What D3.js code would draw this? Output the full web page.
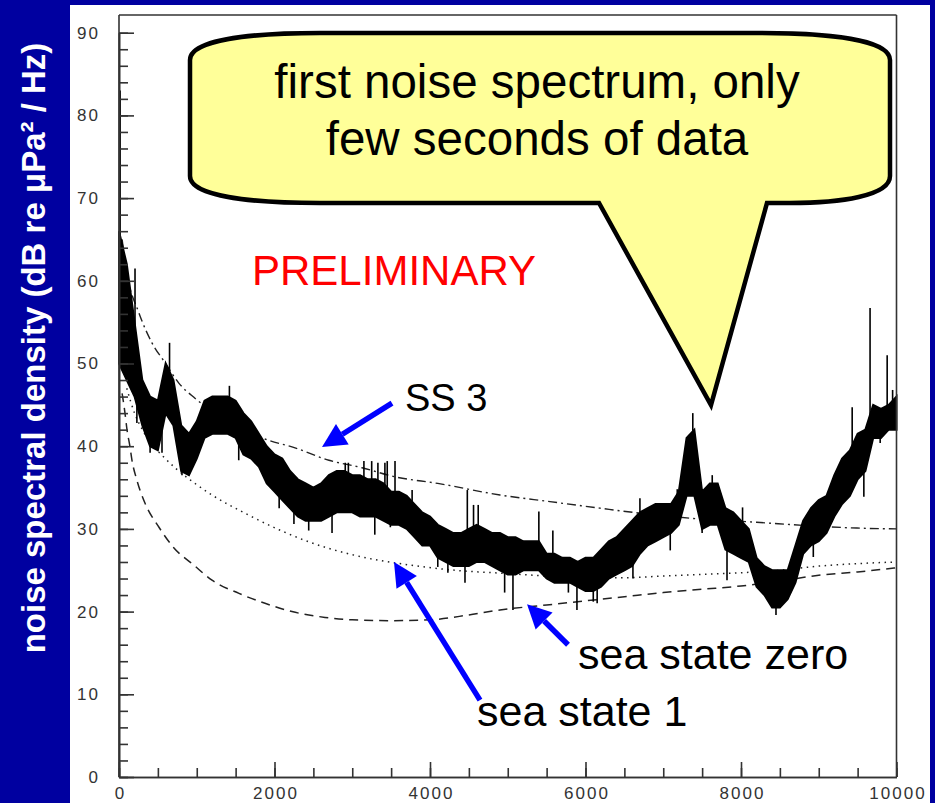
<!DOCTYPE html>
<html>
<head>
<meta charset="utf-8">
<script src="https://cdn.jsdelivr.net/npm/d3@7"></script>
<style>
  html, body { margin: 0; padding: 0; background: #0000a0; }
  svg { display: block; }
</style>
</head>
<body>
<div id="chart"></div>
<script>
const specFreq = [
  0,100,200,300,400,500,600,700,800,900,
  1000,1100,1200,1300,1400,1500,1600,1700,1800,1900,
  2000,2100,2200,2300,2400,2500,2600,2700,2800,2900,
  3000,3100,3200,3300,3400,3500,3600,3700,3800,3900,
  4000,4100,4200,4300,4400,4500,4600,4700,4800,4900,
  5000,5100,5200,5300,5400,5500,5600,5700,5800,5900,
  6000,6100,6200,6300,6400,6500,6600,6700,6800,6900,
  7000,7100,7200,7300,7400,7500,7600,7700,7800,7900,
  8000,8100,8200,8300,8400,8500,8600,8700,8800,8900,
  9000,9100,9200,9300,9400,9500,9600,9700,9800,9900,
  10000];
const specHi = [
  66,62,55,48,46,45.5,50,48,42.5,41.5,
  43,45.5,46,46,46,45.5,44,43,41.5,40,
  39,38.5,37,36,35.5,35,35.5,36.5,37,37,
  36.5,36.5,36,36,35.5,34.5,34.5,34,33,32,
  31.5,30.5,30,29.5,29.5,30,30.5,30,29.5,29.5,
  29,29,28.5,28.5,28.5,27,27,26.5,26.5,26,
  26.5,26.5,27.5,28.5,29,30,31,32,32.5,33,
  33,33,34.5,41,42,34.5,35.5,35.5,32.5,32,
  31,30,26.5,25.5,25,25,25,28,31,32.5,
  33.5,34,36.5,38.5,39.5,41.5,42,45,44.5,45,
  46];
const specLo = [
  50,48,46,42.5,40,39.5,44,42.5,37,36.5,
  38.5,41,41.5,41.5,41.5,41,39,38.5,37.5,35.5,
  34.5,33.5,32.5,31.5,31,31,31,31.5,32,32,
  32,31.5,31.5,31.5,31,30.5,30.5,30,29,28,
  28,26.5,26,25.5,25.5,25.5,26,26,25.5,25,
  24.5,24.5,25,25,25,24,23.5,23.5,23.5,23,
  22.5,22.5,23,24,24.5,25,25.5,27,28,28.5,
  29,29.5,30.5,34,34,30,30.5,30.5,27.5,27,
  26.5,26,23,22,20.5,20.5,21.5,23.5,27,28,
  28.5,29.5,31.5,33,34,36,37,41,41,42,
  42];

// single hairs sticking out of the band (Hz, dB)
const spikeFreq = [
  15, 206, 230, 400, 460, 553, 650, 810, 1420, 1540,
  2060, 2250, 2440, 2740, 2910, 2950, 3150, 3250, 3290, 3330,
  3420, 3450, 3490, 3550, 3770, 4100, 4230, 4450, 4480, 4560,
  4620, 4960, 5067, 5400, 5580, 5780, 5890, 6100, 6150, 6610,
  6700, 7090, 7180, 7380, 7500, 7630, 7820, 8020, 8450, 8930,
  9430, 9580, 9660, 9790, 9880, 9950];
const spikeVal = [
  83, 61.5, 42.8, 39.2, 39.9, 39.2, 52.5, 36.5, 47.3, 38.3,
  32.5, 30.6, 29.8, 29.5, 38, 38, 38.2, 38.2, 29.3, 38,
  38, 38.2, 30.2, 38.2, 34.7, 25.4, 24.7, 23.5, 34.7, 32.9,
  32.9, 22.3, 20.2, 32.1, 29.8, 22.3, 20.2, 21.2, 21, 24,
  33.7, 27.4, 34.8, 44, 29.5, 36.5, 23.8, 32.6, 19.6, 26.6,
  44.7, 33.9, 56.7, 40.4, 51, 46.8];

// reference sea-state curves
const ss3Freq = [40, 100, 257, 424, 592, 772, 977, 1300, 1620, 1840, 2264, 2700, 3125, 3550, 4100, 4900, 5543, 6190, 6700, 7340, 8200, 8850, 9490, 10000];
const ss3Val  = [65, 61, 56.1, 52.5, 50.1, 47.6, 45.8, 43.6, 42, 41, 39.8, 38.3, 37.4, 36.3, 35.5, 34.1, 33.3, 32.5, 31.9, 31.3, 30.8, 30.4, 30.1, 30.0];
const ss1Freq = [100, 200, 300, 400, 553, 720, 977, 1196, 1620, 2058, 2482, 2907, 3344, 3768, 4320, 5000, 5500, 6000, 6500, 7000, 7500, 8000, 8500, 9000, 9500, 10000];
const ss1Val  = [47, 44, 42, 40.5, 38.9, 37.4, 35.5, 34.1, 31.9, 29.9, 28.3, 27.1, 26.2, 25.6, 25.0, 24.6, 24.3, 24.1, 24.1, 24.3, 24.5, 24.7, 25.0, 25.5, 25.8, 26.0];
const ss0Freq = [40, 77, 103, 140, 167, 230, 335, 514, 707, 965, 1196, 1543, 1878, 2225, 2650, 3000, 3500, 4000, 4500, 4900, 5500, 6000, 6500, 7000, 7500, 8000, 8500, 9000, 9500, 10000];
const ss0Val  = [46.4, 44, 42, 40, 38.3, 35.9, 33.1, 30.2, 27.7, 25.6, 23.8, 22.2, 21.0, 20.0, 19.3, 19.0, 18.9, 19.0, 19.6, 20.2, 20.8, 21.3, 21.8, 22.3, 22.7, 23.1, 23.7, 24.4, 24.8, 25.3];

const yTicks = [0, 10, 20, 30, 40, 50, 60, 70, 80, 90];
const xTicks = [0, 2000, 4000, 6000, 8000, 10000];

// annotation labels and arrows, in data units (Hz, dB)
const labelText = ["SS 3", "sea state zero", "sea state 1"];
const labelFreq = [3678, 5904, 4605];
const labelVal  = [44.3, 13.0, 6.2];
const arrowFrom = [[3511, 45.2], [5775, 16], [4643, 9.3]];
const arrowTo   = [[2611, 39.9], [5248, 20.9], [3537, 26]];

const W = 935, H = 803;
const plot = { left: 119, right: 896.5, top: 15, bottom: 777 };
const fontSans = "'Liberation Sans', Arial, sans-serif";

const svg = d3.select("#chart").append("svg")
  .attr("width", W).attr("height", H);

svg.append("rect").attr("width", W).attr("height", H).attr("fill", "#0000a0");
svg.append("rect").attr("x", 70).attr("y", 5).attr("width", 860).attr("height", H - 5).attr("fill", "#ffffff");

const x = d3.scaleLinear().domain([0, 10000]).range([plot.left, plot.right]);
const y = d3.scaleLinear().domain([0, 90]).range([plot.bottom, 32.7]);

const g = svg.append("g");

// sea state curves
const curve = (fs, vs) => d3.line()
  .x((d, i) => x(fs[i])).y((d, i) => y(vs[i]))
  .curve(d3.curveMonotoneX)(vs);

g.append("path").attr("d", curve(ss3Freq, ss3Val))
  .attr("fill", "none").attr("stroke", "#222").attr("stroke-width", 1.4)
  .attr("stroke-dasharray", "9 4 2 4");
g.append("path").attr("d", curve(ss1Freq, ss1Val))
  .attr("fill", "none").attr("stroke", "#222").attr("stroke-width", 1.5)
  .attr("stroke-dasharray", "1.5 4.5");
g.append("path").attr("d", curve(ss0Freq, ss0Val))
  .attr("fill", "none").attr("stroke", "#222").attr("stroke-width", 1.5)
  .attr("stroke-dasharray", "9 6");

// spectrum band
const band = d3.area()
  .x((d, i) => x(specFreq[i]))
  .y0((d, i) => y(specLo[i]))
  .y1((d, i) => y(specHi[i]))
  .curve(d3.curveLinear);
g.append("path").attr("d", band(specHi))
  .attr("fill", "#000").attr("stroke", "#000").attr("stroke-width", 2);

g.selectAll("line.spike").data(spikeFreq).join("line")
  .attr("class", "spike")
  .attr("x1", d => x(d)).attr("x2", d => x(d))
  .attr("y1", d => {
    const k = Math.min(specFreq.length - 1, Math.round(d / 100));
    return y((specHi[k] + specLo[k]) / 2);
  })
  .attr("y2", (d, i) => y(spikeVal[i]))
  .attr("stroke", "#000").attr("stroke-width", 1.6);

// axes
const yAxis = d3.axisLeft(y).tickValues(yTicks).tickSizeInner(-15).tickSizeOuter(0).tickPadding(19);
const yMinor = d3.axisLeft(y).tickValues(d3.range(0, 91, 2)).tickSizeInner(-9).tickSizeOuter(0).tickFormat("");
const xAxis = d3.axisBottom(x).tickValues(xTicks).tickSizeInner(-15).tickSizeOuter(0).tickPadding(10)
  .tickFormat(d3.format("d"));
const xMinor = d3.axisBottom(x).tickValues(d3.range(0, 10001, 500)).tickSizeInner(-9).tickSizeOuter(0).tickFormat("");

function styleAxis(sel) {
  sel.selectAll("path.domain").attr("stroke", "#333").attr("stroke-width", 1.6);
  sel.selectAll(".tick line").attr("stroke", "#333").attr("stroke-width", 1.6);
  sel.selectAll(".tick text")
    .attr("fill", "#333")
    .style("font-family", fontSans)
    .style("font-size", "17px")
    .style("letter-spacing", "2px");
}

svg.append("g").attr("transform", `translate(${plot.left},0)`).call(yMinor).call(styleAxis);
svg.append("g").attr("transform", `translate(${plot.left},0)`).call(yAxis).call(styleAxis);
svg.append("g").attr("transform", `translate(0,${plot.bottom})`).call(xMinor).call(styleAxis);
svg.append("g").attr("transform", `translate(0,${plot.bottom})`).call(xAxis).call(styleAxis)
  .selectAll(".tick text").attr("dx", "1px");

// frame
[[plot.left, plot.top, plot.right, plot.top],
 [plot.right, plot.top, plot.right, plot.bottom],
 [plot.left, plot.top, plot.left, plot.bottom]].forEach(([x1, y1, x2, y2]) => {
  svg.append("line").attr("x1", x1).attr("y1", y1).attr("x2", x2).attr("y2", y2)
    .attr("stroke", "#333").attr("stroke-width", 1.6);
});

// y axis title
svg.append("text")
  .attr("transform", "translate(45,348) rotate(-90)")
  .attr("text-anchor", "middle")
  .attr("fill", "#ffffff")
  .style("font-family", fontSans)
  .style("font-weight", "bold")
  .style("font-size", "33px")
  .text("noise spectral density (dB re μPa² / Hz)");

// PRELIMINARY
svg.append("text")
  .attr("x", x(1711)).attr("y", y(59.5))
  .attr("fill", "#ff0000")
  .style("font-family", fontSans)
  .style("font-size", "42px")
  .text("PRELIMINARY");

// callout bubble
const bubble = d3.path();
bubble.moveTo(190, 60);
bubble.bezierCurveTo(190, 40, 250, 33, 320, 33);
bubble.lineTo(760, 33);
bubble.bezierCurveTo(830, 33, 890, 40, 890, 60);
bubble.lineTo(890, 176);
bubble.bezierCurveTo(890, 196, 840, 203, 790, 203);
bubble.lineTo(767, 203);
bubble.lineTo(711, 405);
bubble.lineTo(599, 203);
bubble.lineTo(320, 203);
bubble.bezierCurveTo(250, 203, 190, 196, 190, 176);
bubble.closePath();

svg.append("path").attr("d", bubble.toString())
  .attr("fill", "#ffff99").attr("stroke", "#000")
  .attr("stroke-width", 4.5).attr("stroke-linejoin", "miter");

svg.append("g")
  .selectAll("text")
  .data(["first noise spectrum, only", "few seconds of data"])
  .join("text")
  .attr("x", 537).attr("y", (d, i) => 98 + i * 57)
  .attr("text-anchor", "middle")
  .attr("fill", "#000")
  .style("font-family", fontSans)
  .style("font-size", "47.5px")
  .text(d => d);

// curve labels
svg.append("g").selectAll("text").data(labelText).join("text")
  .attr("x", (d, i) => x(labelFreq[i]))
  .attr("y", (d, i) => y(labelVal[i]))
  .attr("fill", "#000")
  .style("font-family", fontSans)
  .style("font-size", (d, i) => i === 0 ? "38px" : "43px")
  .text(d => d);

// blue arrows
const headLen = 24, headHalf = 12;
arrowFrom.forEach((from, i) => {
  const x0 = x(from[0]), y0 = y(from[1]);
  const x1 = x(arrowTo[i][0]), y1 = y(arrowTo[i][1]);
  const ang = Math.atan2(y1 - y0, x1 - x0);
  const bx = x1 - headLen * Math.cos(ang), by = y1 - headLen * Math.sin(ang);
  svg.append("line")
    .attr("x1", x0).attr("y1", y0).attr("x2", bx).attr("y2", by)
    .attr("stroke", "#0000ff").attr("stroke-width", 5.5);
  const px = -Math.sin(ang) * headHalf, py = Math.cos(ang) * headHalf;
  svg.append("path")
    .attr("d", `M${x1},${y1}L${bx + px},${by + py}L${bx - px},${by - py}Z`)
    .attr("fill", "#0000ff");
});
</script>
</body>
</html>
